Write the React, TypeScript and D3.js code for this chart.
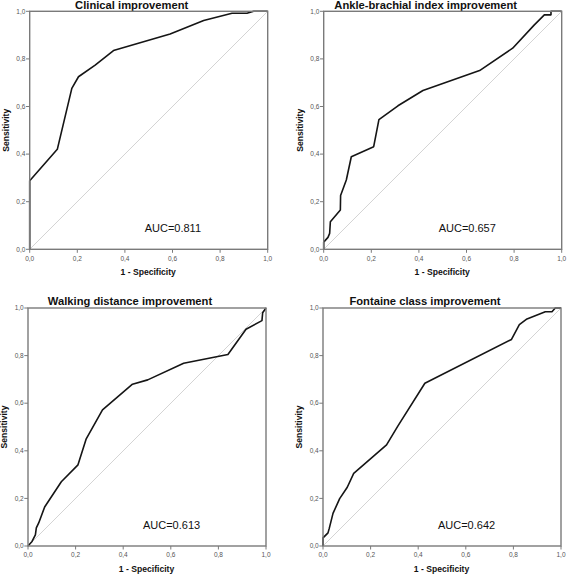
import React from "react";
import * as d3 from "d3";

// ---- Data ----
const panelTitles = [
  "Clinical improvement",
  "Ankle-brachial index improvement",
  "Walking distance improvement",
  "Fontaine class improvement",
];
const aucLabels = ["AUC=0.811", "AUC=0.657", "AUC=0.613", "AUC=0.642"];
const tickValues = [0, 0.2, 0.4, 0.6, 0.8, 1.0];
const xAxisLabel = "1 - Specificity";
const yAxisLabel = "Sensitivity";

const clinicalFpr = [0, 0, 0.116, 0.177, 0.205, 0.275, 0.352, 0.59, 0.731, 0.85, 0.913, 0.941, 1];
const clinicalTpr = [0, 0.288, 0.42, 0.676, 0.725, 0.774, 0.835, 0.905, 0.961, 0.992, 0.992, 1, 1];

const abiFpr = [0, 0, 0.018, 0.025, 0.028, 0.07, 0.071, 0.095, 0.116, 0.21, 0.232, 0.312, 0.417, 0.655, 0.794, 0.885, 0.927, 0.955, 0.955, 1];
const abiTpr = [0, 0.03, 0.05, 0.067, 0.116, 0.165, 0.226, 0.291, 0.389, 0.431, 0.545, 0.603, 0.667, 0.751, 0.845, 0.943, 0.985, 0.985, 1, 1];

const walkingFpr = [0, 0.017, 0.031, 0.035, 0.045, 0.07, 0.14, 0.21, 0.244, 0.313, 0.439, 0.503, 0.654, 0.84, 0.916, 0.983, 0.986, 1];
const walkingTpr = [0, 0.019, 0.047, 0.076, 0.097, 0.164, 0.27, 0.341, 0.449, 0.572, 0.68, 0.698, 0.768, 0.805, 0.911, 0.947, 0.98, 1];

const fontaineFpr = [0, 0, 0.021, 0.026, 0.042, 0.07, 0.102, 0.129, 0.267, 0.315, 0.428, 0.792, 0.825, 0.857, 0.934, 0.962, 0.976, 1];
const fontaineTpr = [0, 0.034, 0.055, 0.073, 0.137, 0.199, 0.247, 0.305, 0.425, 0.505, 0.684, 0.868, 0.93, 0.954, 0.984, 0.984, 1, 1];

const seriesFpr = [clinicalFpr, abiFpr, walkingFpr, fontaineFpr];
const seriesTpr = [clinicalTpr, abiTpr, walkingTpr, fontaineTpr];

// ---- Layout ----
const W = 567;
const H = 574;
const plotLefts = [29.7, 323.7, 28, 323];
const plotTops = [11.3, 11.3, 308, 308];
const titleBaselines = [8.6, 8.6, 305, 305];
const yLabelXs = [5.8, 300.3, 4.2, 299.2];
const plotW = 238;
const plotH = 238;
const FONT = "'Liberation Sans', Arial, Helvetica, sans-serif";

const fmt = (v: number) => d3.format(".1f")(v).replace(".", ",");

function Panel({ i }: { i: number }) {
  const left = plotLefts[i];
  const top = plotTops[i];
  const x = d3.scaleLinear().domain([0, 1]).range([0, plotW]);
  const y = d3.scaleLinear().domain([0, 1]).range([plotH, 0]);
  const pts: [number, number][] = seriesFpr[i].map((f, k) => [f, seriesTpr[i][k]]);
  const line = d3
    .line<[number, number]>()
    .x((d) => x(d[0]))
    .y((d) => y(d[1]));
  const diag = line([
    [0, 0],
    [1, 1],
  ]);
  return (
    <g transform={`translate(${left},${top})`}>
      {/* title */}
      <text
        x={102}
        y={titleBaselines[i] - top}
        textAnchor="middle"
        fontFamily={FONT}
        fontWeight="bold"
        fontSize={11.2}
        fill="#111"
      >
        {panelTitles[i]}
      </text>
      {/* diagonal reference */}
      <path d={diag || ""} stroke="#d4d4d4" strokeWidth={1} fill="none" />
      {/* ROC curve */}
      <path d={line(pts) || ""} stroke="#151515" strokeWidth={1.6} fill="none" strokeLinejoin="round" />
      {/* frame */}
      <rect x={0} y={0} width={plotW} height={plotH} fill="none" stroke="#7a7a7a" strokeWidth={1.4} />
      {/* y ticks */}
      {tickValues.map((t) => (
        <g key={"y" + t} transform={`translate(0,${y(t)})`}>
          <line x1={-3.7} x2={0} stroke="#7a7a7a" strokeWidth={1} />
          <text
            x={-4.3}
            dy="0.35em"
            textAnchor="end"
            fontFamily={FONT}
            fontSize={6.5}
            fill="#555"
          >
            {fmt(t)}
          </text>
        </g>
      ))}
      {/* x ticks */}
      {tickValues.map((t) => (
        <g key={"x" + t} transform={`translate(${x(t)},${plotH})`}>
          <line y1={0} y2={3.5} stroke="#7a7a7a" strokeWidth={1} />
          <text
            y={11.3}
            textAnchor="middle"
            fontFamily={FONT}
            fontSize={6.5}
            fill="#555"
          >
            {fmt(t)}
          </text>
        </g>
      ))}
      {/* axis labels */}
      <text
        x={plotW / 2 - 0.5}
        y={plotH + 25.7}
        textAnchor="middle"
        fontFamily={FONT}
        fontWeight="bold"
        fontSize={8.6}
        fill="#111"
      >
        {xAxisLabel}
      </text>
      <text
        transform={`translate(${yLabelXs[i] - left},${plotH / 2}) rotate(-90)`}
        dy="0.35em"
        textAnchor="middle"
        fontFamily={FONT}
        fontWeight="bold"
        fontSize={8.6}
        fill="#111"
      >
        {yAxisLabel}
      </text>
      {/* AUC */}
      <text
        x={x(0.483)}
        y={plotH - 17.5}
        fontFamily={FONT}
        fontSize={11}
        fill="#111"
      >
        {aucLabels[i]}
      </text>
    </g>
  );
}

export default function App() {
  return (
    <svg
      width={W}
      height={H}
      viewBox={`0 0 ${W} ${H}`}
      style={{ position: "absolute", left: 0, top: 0, background: "#fff" }}
    >
      <rect width={W} height={H} fill="#fff" />
      {[0, 1, 2, 3].map((i) => (
        <Panel key={i} i={i} />
      ))}
    </svg>
  );
}
